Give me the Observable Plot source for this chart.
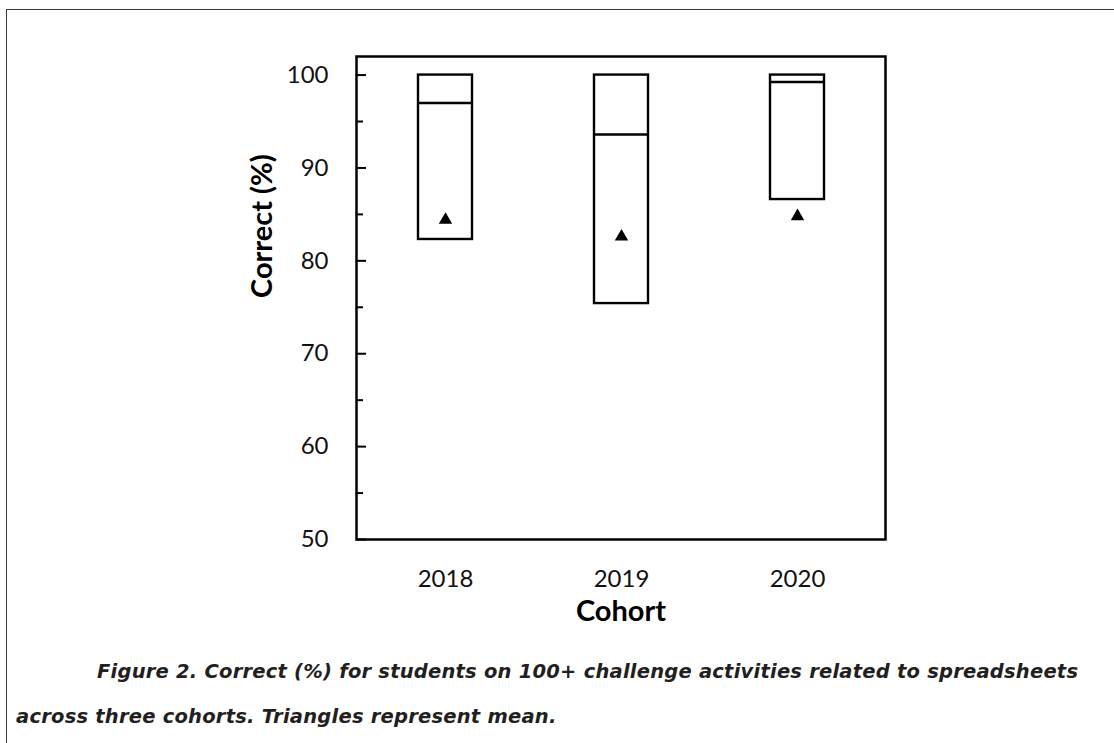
<!DOCTYPE html>
<html><head><meta charset="utf-8">
<script src="https://cdn.jsdelivr.net/npm/d3@7"></script>
<script src="https://cdn.jsdelivr.net/npm/@observablehq/plot@0.6"></script>
<style>
html,body{margin:0;padding:0;background:#fff;}
#page{position:relative;width:1114px;height:743px;overflow:hidden;}
#border{position:absolute;left:6px;top:9px;width:1200px;height:800px;border-top:1.5px solid #3a3a3a;border-left:1.5px solid #3a3a3a;}
#chart{position:absolute;left:0;top:0;}
.cap{position:absolute;font-family:"DejaVu Sans";font-weight:700;font-style:italic;font-size:19.5px;line-height:24px;color:#231f20;white-space:nowrap;}
</style></head>
<body>
<div id="page">
  <div id="border"></div>
  <div id="chart"></div>
  <div class="cap" id="cap1" style="left:97px;top:660px;">Figure 2. Correct (%) for students on 100+ challenge activities related to spreadsheets</div>
  <div class="cap" id="cap2" style="left:16px;top:705px;">across three cohorts. Triangles represent mean.</div>
</div>
<script>
const cohorts = ["2018", "2019", "2020"];
const q1 = [82.3, 75.4, 86.6];
const median = [97.0, 93.6, 99.25];
const q3 = [100, 100, 100];
const mean = [84.4, 82.6, 84.8];
const majorTicks = [50, 60, 70, 80, 90, 100];
const minorTicks = [55, 65, 75, 85, 95];

const data = cohorts.map((c, i) => ({cohort: c, q1: q1[i], median: median[i], q3: q3[i], mean: mean[i]}));

const chart = Plot.plot({
  width: 1114, height: 640,
  marginLeft: 356, marginRight: 229, marginTop: 56, marginBottom: 101,
  style: {background: "transparent", fontFamily: "Lato", color: "#000", overflow: "visible"},
  x: {domain: cohorts, padding: 0, label: null},
  y: {domain: [50, 102], label: null},
  marks: [
    Plot.barY(data, {x: "cohort", y1: "q1", y2: "q3", fill: "white", stroke: "black", strokeWidth: 2.4, insetLeft: 61, insetRight: 61}),
    Plot.tickY(data, {x: "cohort", y: "median", stroke: "black", strokeWidth: 2.4, insetLeft: 61, insetRight: 61}),
    Plot.dot(data, {x: "cohort", y: "mean", symbol: "triangle", r: 5, fill: "black", stroke: "none"}),
    Plot.frame({stroke: "black", strokeWidth: 2.5}),
    Plot.axisY(minorTicks, {tickSize: -7, tickFormat: () => "", strokeWidth: 2, label: null}),
    Plot.axisY(majorTicks, {tickSize: -10, tickPadding: 38, fontSize: 24, strokeWidth: 2, label: null, fill: "#111"}),
    Plot.axisX({tickSize: 0, tickPadding: 30, fontSize: 24, label: null, fill: "#111"}),
    Plot.text(["Cohort"], {frameAnchor: "bottom", dy: 81, fontSize: 29, fontWeight: "bold", fill: "#000"}),
    Plot.text(["Correct (%)"], {frameAnchor: "left", dx: -94, rotate: -90, fontSize: 29, fontWeight: "bold", fill: "#000"})
  ]
});
document.getElementById("chart").appendChild(chart);

// fit caption line width to the reference text block
const c1 = document.getElementById("cap1"), c2 = document.getElementById("cap2");
const w = c1.getBoundingClientRect().width;
const target = 981;
const ls = (target - w) / (c1.textContent.length - 1);
c1.style.letterSpacing = ls + "px";
c2.style.letterSpacing = ls + "px";
</script>
</body></html>
